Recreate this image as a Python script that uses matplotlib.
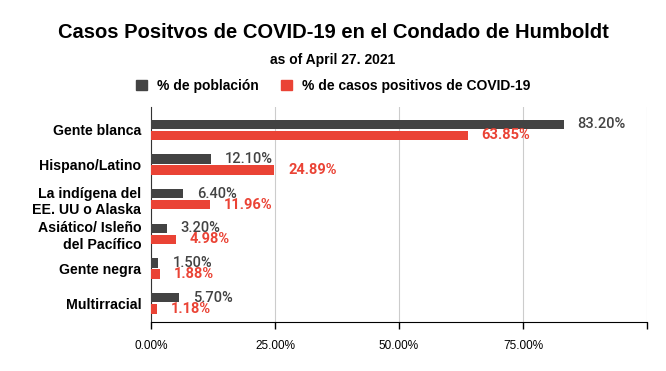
import matplotlib.pyplot as plt
import numpy as np

categories = ["Gente blanca", "Hispano/Latino", "La indígena del\nEE. UU o Alaska",
              "Asiático/ Isleño\ndel Pacífico", "Gente negra", "Multirracial"]
poblacion = [83.20, 12.10, 6.40, 3.20, 1.50, 5.70]
casos = [63.85, 24.89, 11.96, 4.98, 1.88, 1.18]
tick_vals = [0, 25, 50, 75, 100]
tick_labels = ["0.00%", "25.00%", "50.00%", "75.00%", ""]

dark = "#434343"
red = "#ea4335"

plt.rcParams['font.family'] = ['Liberation Sans', 'DejaVu Sans']

fig = plt.figure(figsize=(6.66, 3.71), dpi=100)
ax = fig.add_axes([151 / 666, 1 - 322 / 371, 496 / 666, 215 / 371])

y = np.arange(len(categories))
off = 0.16
h = 0.27
ax.barh(y - off, poblacion, height=h, color=dark, zorder=3)
ax.barh(y + off, casos, height=h, color=red, zorder=3)

for i in range(len(categories)):
    ax.annotate(f"{poblacion[i]:.2f}%", (poblacion[i], y[i] - off), xytext=(10, 0),
                textcoords="offset points", va="center", ha="left", fontsize=10.5,
                color=dark, family=["Roboto", "DejaVu Sans"], fontweight="medium")
    ax.annotate(f"{casos[i]:.2f}%", (casos[i], y[i] + off), xytext=(10, 0),
                textcoords="offset points", va="center", ha="left", fontsize=10.5,
                color=red, family=["Roboto", "DejaVu Sans"], fontweight="bold")

ax.set_xlim(0, 100)
ax.set_ylim(len(categories) - 0.46, -0.66)
ax.set_yticks(y)
ax.set_yticklabels(categories, fontsize=10.2, fontweight="bold", linespacing=1.2)
ax.tick_params(axis="y", length=0, pad=7)
ax.set_xticks(tick_vals)
ax.set_xticklabels(tick_labels, fontsize=8.5)
ax.tick_params(axis="x", length=5, width=1, pad=8, color="black")
ax.grid(axis="x", color="#cccccc", linewidth=0.8, zorder=0)
for s in ["top", "right"]:
    ax.spines[s].set_visible(False)
ax.spines["left"].set_color("#333333")
ax.spines["bottom"].set_color("black")

fig.text(0.5, 1 - 32 / 371, "Casos Positvos de COVID-19 en el Condado de Humboldt",
         ha="center", va="center", fontsize=14.5, fontweight="bold")
fig.text(0.5, 1 - 60 / 371, "as of April 27. 2021", ha="center", va="center",
         fontsize=10, fontweight="bold")

handles = [plt.Rectangle((0, 0), 1, 1, color=dark), plt.Rectangle((0, 0), 1, 1, color=red)]
fig.legend(handles, ["% de población", "% de casos positivos de COVID-19"],
           loc="center", bbox_to_anchor=(0.5, 1 - 86 / 371), ncol=2, frameon=False,
           prop={"weight": "bold", "size": 10}, handlelength=0.8, handleheight=0.8,
           columnspacing=1.6, handletextpad=0.7)

fig.savefig("out.png", dpi=100)
